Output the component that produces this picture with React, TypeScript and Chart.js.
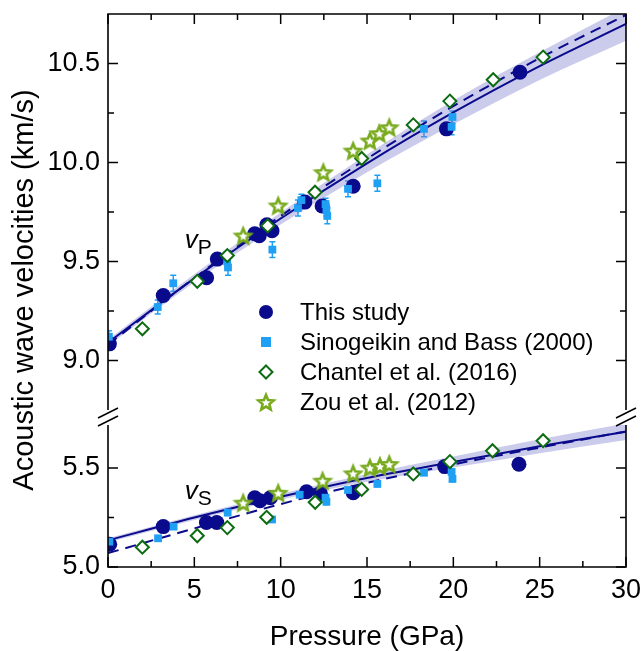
import React, { useEffect, useRef } from "react";
import { Chart, registerables } from "chart.js";

Chart.register(...registerables);

// ---------------- data ----------------
const fitPressure = [0, 5, 10, 15, 20, 25, 30];
const vpFitSolid = [9.09, 9.415, 9.717, 9.996, 10.253, 10.487, 10.7];
const vpFitDashed = [9.08, 9.417, 9.73, 10.019, 10.285, 10.527, 10.745];
const vpBandHigh = [9.105, 9.435, 9.747, 10.041, 10.313, 10.557, 10.785];
const vpBandLow = [9.075, 9.395, 9.687, 9.951, 10.193, 10.417, 10.615];
const vsFitSolid = [5.135, 5.25, 5.355, 5.45, 5.53, 5.61, 5.683];
const vsFitDashed = [5.07, 5.195, 5.318, 5.425, 5.518, 5.603, 5.685];
const vsBandHigh = [5.145, 5.262, 5.37, 5.47, 5.558, 5.645, 5.725];
const vsBandLow = [5.125, 5.238, 5.34, 5.43, 5.502, 5.575, 5.641];

const studyVpP = [0.08, 3.2, 5.71, 6.33, 8.5, 8.76, 9.2, 9.5, 11.4, 12.4, 14.2, 19.6, 23.86];
const studyVp = [9.084, 9.328, 9.418, 9.512, 9.64, 9.63, 9.685, 9.655, 9.8, 9.78, 9.88, 10.17, 10.456];
const sinoVpP = [0.05, 2.88, 3.78, 6.9, 6.95, 9.52, 11.0, 11.2, 12.6, 12.65, 12.7, 13.9, 15.6, 18.3, 19.9, 19.95];
const sinoVp = [9.12, 9.27, 9.39, 9.5, 9.47, 9.56, 9.77, 9.81, 9.79, 9.76, 9.73, 9.867, 9.895, 10.17, 10.18, 10.23];
const sinoVpErr = [0.03, 0.035, 0.04, 0.03, 0.04, 0.04, 0.04, 0.03, 0.03, 0.03, 0.04, 0.04, 0.04, 0.04, 0.04, 0.03];
const chantelVpP = [1.99, 5.17, 6.91, 9.25, 11.99, 14.69, 17.68, 19.8, 22.31, 25.2];
const chantelVp = [9.16, 9.4, 9.53, 9.68, 9.85, 10.02, 10.19, 10.31, 10.418, 10.532];
const zouVpP = [7.83, 9.86, 12.47, 14.2, 15.17, 15.71, 16.29];
const zouVp = [9.631, 9.783, 9.951, 10.06, 10.111, 10.148, 10.178];

const studyVsP = [0.1, 3.2, 5.7, 6.3, 8.5, 8.8, 9.4, 11.5, 12.3, 14.2, 19.5, 23.8];
const studyVs = [5.115, 5.204, 5.225, 5.225, 5.35, 5.335, 5.35, 5.38, 5.372, 5.375, 5.507, 5.519];
const sinoVsP = [0.08, 2.9, 3.8, 6.93, 9.5, 11.1, 12.6, 12.65, 13.9, 15.6, 18.3, 19.9, 19.95];
const sinoVs = [5.128, 5.145, 5.204, 5.275, 5.24, 5.365, 5.35, 5.33, 5.389, 5.42, 5.476, 5.48, 5.445];
const sinoVsErr = [0.012, 0.012, 0.012, 0.015, 0.012, 0.012, 0.015, 0.015, 0.012, 0.015, 0.012, 0.015, 0.015];
const chantelVsP = [1.99, 5.17, 6.91, 9.19, 12.0, 14.69, 17.68, 19.8, 22.27, 25.2];
const chantelVs = [5.1, 5.158, 5.199, 5.251, 5.327, 5.392, 5.47, 5.532, 5.587, 5.638];
const zouVsP = [7.83, 9.86, 12.43, 14.2, 15.17, 15.75, 16.29];
const zouVs = [5.325, 5.375, 5.436, 5.473, 5.502, 5.51, 5.52];

const legendLabels = ["This study", "Sinogeikin and Bass (2000)", "Chantel et al. (2016)", "Zou et al. (2012)"];

const xTickValues = [0, 5, 10, 15, 20, 25, 30];
const xMinorValues = [2.5, 7.5, 12.5, 17.5, 22.5, 27.5];
const vpTickValues = [9.0, 9.5, 10.0, 10.5];
const vpMinorValues = [9.25, 9.75, 10.25];
const vsTickValues = [5.0, 5.5];
const vsMinorValues = [5.25];

const X_MIN = 0, X_MAX = 30;
const VP_MIN = 8.75, VP_MAX = 10.75;
const VS_MIN = 5.0, VS_MAX = 5.717;
const BREAK_UNITS = 0.076;

// ---------------- styles ----------------
const NAVY = "#0a0a8c";
const SKY = "#1fa0f5";
const DGREEN = "#0d6b12";
const LGREEN = "#78aa1e";
const BAND = "rgba(125,125,205,0.40)";
const FONT = "'Liberation Sans', Arial, sans-serif";

const pts = (xs: number[], ys: number[]) => xs.map((x, i) => ({ x, y: ys[i] }));

function makeStar(color: string): HTMLCanvasElement {
  const c = document.createElement("canvas");
  const s = 22;
  c.width = s;
  c.height = s;
  const g = c.getContext("2d")!;
  const R = 8.0, r = 3.6;
  g.beginPath();
  for (let i = 0; i < 10; i++) {
    const a = -Math.PI / 2 + (i * Math.PI) / 5;
    const rad = i % 2 === 0 ? R : r;
    const px = s / 2 + rad * Math.cos(a);
    const py = s / 2 + 1 + rad * Math.sin(a);
    if (i === 0) g.moveTo(px, py);
    else g.lineTo(px, py);
  }
  g.closePath();
  g.fillStyle = "#ffffff";
  g.fill();
  g.strokeStyle = color;
  g.lineWidth = 2.6;
  g.lineJoin = "miter";
  g.stroke();
  return c;
}

export default function App() {
  const ref = useRef<HTMLCanvasElement | null>(null);

  useEffect(() => {
    if (!ref.current) return;
    const star = makeStar(LGREEN);

    const errorBars = [
      { xs: sinoVpP, ys: sinoVp, es: sinoVpErr, axis: "yU" },
      { xs: sinoVsP, ys: sinoVs, es: sinoVsErr, axis: "yL" },
    ];

    const decor = {
      id: "decor",
      beforeDatasetsDraw(chart: any) {
        const ctx = chart.ctx;
        const xs = chart.scales.x;
        const { left, right, top, bottom } = chart.chartArea;
        ctx.save();
        ctx.beginPath();
        ctx.rect(left, top, right - left, bottom - top);
        ctx.clip();
        ctx.strokeStyle = SKY;
        ctx.lineWidth = 1.5;
        for (const set of errorBars) {
          const ys = chart.scales[set.axis];
          set.xs.forEach((p, i) => {
            const x = xs.getPixelForValue(p);
            const y1 = ys.getPixelForValue(set.ys[i] + set.es[i]);
            const y2 = ys.getPixelForValue(set.ys[i] - set.es[i]);
            ctx.beginPath();
            ctx.moveTo(x, y1);
            ctx.lineTo(x, y2);
            ctx.moveTo(x - 3, y1);
            ctx.lineTo(x + 3, y1);
            ctx.moveTo(x - 3, y2);
            ctx.lineTo(x + 3, y2);
            ctx.stroke();
          });
        }
        ctx.restore();
      },
      afterDraw(chart: any) {
        const ctx = chart.ctx;
        const { left, right, top, bottom } = chart.chartArea;
        const xs = chart.scales.x;
        const yU = chart.scales.yU;
        const yL = chart.scales.yL;
        const gapTop = yU.getPixelForValue(VP_MIN);
        const gapBot = yL.top;
        ctx.save();
        ctx.strokeStyle = "#000";
        ctx.lineWidth = 1.6;
        ctx.beginPath();
        ctx.moveTo(left, gapTop);
        ctx.lineTo(left, top);
        ctx.lineTo(right, top);
        ctx.lineTo(right, gapTop);
        ctx.moveTo(left, gapBot);
        ctx.lineTo(left, bottom);
        ctx.lineTo(right, bottom);
        ctx.lineTo(right, gapBot);
        ctx.stroke();

        // ticks
        ctx.lineWidth = 1.5;
        ctx.beginPath();
        const xt = (vals: number[], len: number) => {
          vals.forEach((v) => {
            const x = xs.getPixelForValue(v);
            ctx.moveTo(x, bottom);
            ctx.lineTo(x, bottom - len);
            ctx.moveTo(x, top);
            ctx.lineTo(x, top + len);
          });
        };
        xt(xTickValues, 10);
        xt(xMinorValues, 6);
        const yt = (scale: any, vals: number[], len: number) => {
          vals.forEach((v) => {
            const y = scale.getPixelForValue(v);
            ctx.moveTo(left, y);
            ctx.lineTo(left + len, y);
            ctx.moveTo(right, y);
            ctx.lineTo(right - len, y);
          });
        };
        yt(yU, vpTickValues, 10);
        yt(yU, vpMinorValues, 6);
        yt(yL, vsTickValues, 10);
        yt(yL, vsMinorValues, 6);
        ctx.stroke();

        // axis breaks
        ctx.beginPath();
        [left, right].forEach((ax) => {
          [gapTop + 3, gapTop + 11].forEach((c) => {
            ctx.moveTo(ax - 10, c + 5);
            ctx.lineTo(ax + 10, c - 5);
          });
        });
        ctx.stroke();

        // axis titles
        ctx.fillStyle = "#000";
        ctx.font = `28px ${FONT}`;
        ctx.textAlign = "center";
        ctx.textBaseline = "alphabetic";
        ctx.fillText("Pressure (GPa)", (left + right) / 2, 645);
        ctx.save();
        ctx.translate(33, 290);
        ctx.rotate(-Math.PI / 2);
        ctx.font = `29px ${FONT}`;
        ctx.fillText("Acoustic wave velocities (km/s)", 0, 0);
        ctx.restore();

        // vP / vS labels
        ctx.textAlign = "left";
        const lab = (p: number, v: number, scale: any, sub: string) => {
          const x = xs.getPixelForValue(p);
          const y = scale.getPixelForValue(v);
          ctx.font = `italic 26px ${FONT}`;
          ctx.fillText("v", x, y);
          ctx.font = `21px ${FONT}`;
          ctx.fillText(sub, x + 13, y + 6);
        };
        lab(4.45, 9.57, yU, "P");
        lab(4.45, 5.345, yL, "S");

        // legend
        const mx = 266, tx = 300;
        const rows = [312, 342, 372, 402];
        ctx.font = `24px ${FONT}`;
        ctx.textBaseline = "middle";
        legendLabels.forEach((t, i) => ctx.fillText(t, tx, rows[i] + 1));
        ctx.fillStyle = NAVY;
        ctx.beginPath();
        ctx.arc(mx, rows[0], 7, 0, Math.PI * 2);
        ctx.fill();
        ctx.fillStyle = SKY;
        ctx.fillRect(mx - 5, rows[1] - 5, 10, 10);
        ctx.beginPath();
        ctx.moveTo(mx, rows[2] - 6.5);
        ctx.lineTo(mx + 6.5, rows[2]);
        ctx.lineTo(mx, rows[2] + 6.5);
        ctx.lineTo(mx - 6.5, rows[2]);
        ctx.closePath();
        ctx.fillStyle = "#fff";
        ctx.fill();
        ctx.strokeStyle = DGREEN;
        ctx.lineWidth = 2;
        ctx.stroke();
        ctx.drawImage(star, mx - star.width / 2, rows[3] - star.height / 2);
        ctx.restore();
      },
    };

    const lineDs = (data: number[], axis: string, dashed: boolean, order: number) => ({
      data: pts(fitPressure, data),
      yAxisID: axis,
      showLine: true,
      pointRadius: 0,
      borderColor: NAVY,
      borderWidth: 2,
      borderDash: dashed ? [11, 7] : [],
      cubicInterpolationMode: "monotone",
      fill: false,
      order,
    });
    const bandDs = (data: number[], axis: string, fill: any) => ({
      data: pts(fitPressure, data),
      yAxisID: axis,
      showLine: true,
      pointRadius: 0,
      borderWidth: 0,
      borderColor: "rgba(0,0,0,0)",
      backgroundColor: BAND,
      cubicInterpolationMode: "monotone",
      fill,
      order: 20,
    });
    const circleDs = (xsd: number[], ysd: number[], axis: string) => ({
      data: pts(xsd, ysd),
      yAxisID: axis,
      pointStyle: "circle",
      pointRadius: 7.5,
      pointBorderWidth: 0,
      backgroundColor: NAVY,
      borderColor: NAVY,
      order: 8,
    });
    const squareDs = (xsd: number[], ysd: number[], axis: string) => ({
      data: pts(xsd, ysd),
      yAxisID: axis,
      pointStyle: "rect",
      pointRadius: 5.5,
      pointBorderWidth: 0,
      backgroundColor: SKY,
      borderColor: SKY,
      order: 7,
    });
    const diamondDs = (xsd: number[], ysd: number[], axis: string) => ({
      data: pts(xsd, ysd),
      yAxisID: axis,
      pointStyle: "rectRot",
      pointRadius: 6.5,
      pointBorderWidth: 2,
      backgroundColor: "#ffffff",
      borderColor: DGREEN,
      order: 6,
    });
    const starDs = (xsd: number[], ysd: number[], axis: string) => ({
      data: pts(xsd, ysd),
      yAxisID: axis,
      pointStyle: star,
      pointRadius: 8,
      order: 5,
    });

    const tickFont = { family: FONT, size: 27 };

    const chart = new Chart(ref.current, {
      type: "scatter",
      data: {
        datasets: [
          bandDs(vpBandHigh, "yU", "+1"),
          bandDs(vpBandLow, "yU", false),
          lineDs(vpFitSolid, "yU", false, 10),
          lineDs(vpFitDashed, "yU", true, 10),
          circleDs(studyVpP, studyVp, "yU"),
          squareDs(sinoVpP, sinoVp, "yU"),
          diamondDs(chantelVpP, chantelVp, "yU"),
          starDs(zouVpP, zouVp, "yU"),
          bandDs(vsBandHigh, "yL", "+1"),
          bandDs(vsBandLow, "yL", false),
          lineDs(vsFitSolid, "yL", false, 10),
          lineDs(vsFitDashed, "yL", true, 10),
          circleDs(studyVsP, studyVs, "yL"),
          squareDs(sinoVsP, sinoVs, "yL"),
          diamondDs(chantelVsP, chantelVs, "yL"),
          starDs(zouVsP, zouVs, "yL"),
        ] as any,
      },
      options: {
        animation: false,
        responsive: false,
        devicePixelRatio: 1,
        layout: { padding: { left: 0, top: 14, right: 18, bottom: 0 } },
        plugins: { legend: { display: false }, tooltip: { enabled: false } },
        scales: {
          x: {
            type: "linear",
            min: X_MIN,
            max: X_MAX,
            grid: { display: false, drawTicks: false },
            border: { display: false },
            ticks: { font: tickFont, color: "#000", padding: 7, maxRotation: 0, autoSkip: false },
            afterBuildTicks: (s: any) => {
              s.ticks = xTickValues.map((value) => ({ value }));
            },
            afterFit: (s: any) => {
              s.height = 84;
              s.paddingLeft = 0;
              s.paddingRight = 0;
            },
          },
          yL: {
            type: "linear",
            position: "left",
            stack: "v",
            stackWeight: VS_MAX - VS_MIN,
            weight: 0,
            min: VS_MIN,
            max: VS_MAX,
            grid: { display: false, drawTicks: false },
            border: { display: false },
            ticks: {
              font: tickFont,
              color: "#000",
              padding: 8,
              autoSkip: false,
              callback: (v: any) => Number(v).toFixed(1),
            },
            afterBuildTicks: (s: any) => {
              s.ticks = vsTickValues.map((value) => ({ value }));
            },
            afterFit: (s: any) => {
              s.width = 108;
              s.paddingTop = 0;
              s.paddingBottom = 0;
            },
          },
          yU: {
            type: "linear",
            position: "left",
            stack: "v",
            stackWeight: VP_MAX - VP_MIN + BREAK_UNITS,
            weight: 1,
            min: VP_MIN - BREAK_UNITS,
            max: VP_MAX,
            grid: { display: false, drawTicks: false },
            border: { display: false },
            ticks: {
              font: tickFont,
              color: "#000",
              padding: 8,
              autoSkip: false,
              callback: (v: any) => Number(v).toFixed(1),
            },
            afterBuildTicks: (s: any) => {
              s.ticks = vpTickValues.map((value) => ({ value }));
            },
            afterFit: (s: any) => {
              s.width = 108;
              s.paddingTop = 0;
              s.paddingBottom = 0;
            },
          },
        } as any,
      },
      plugins: [decor],
    });
    return () => chart.destroy();
  }, []);

  return (
    <div style={{ position: "fixed", left: 0, top: 0, width: 644, height: 651, background: "#fff" }}>
      <canvas ref={ref} width={644} height={651} />
    </div>
  );
}
